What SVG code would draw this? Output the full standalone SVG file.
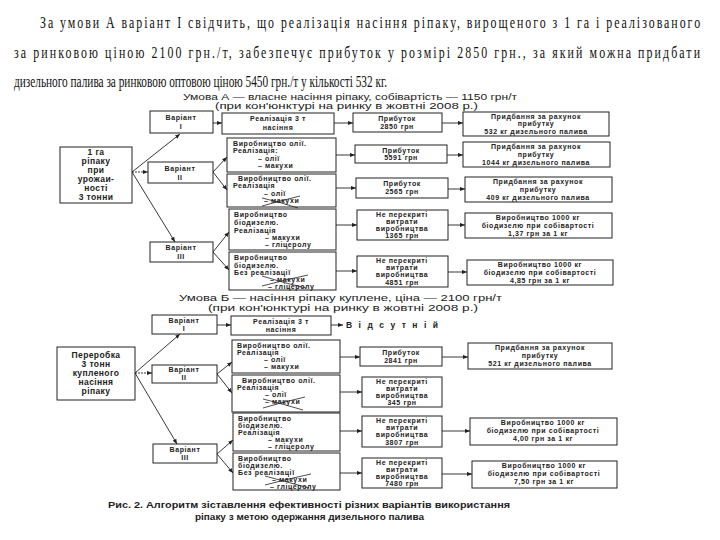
<svg xmlns="http://www.w3.org/2000/svg" width="720" height="540" viewBox="0 0 720 540">
<defs>
<marker id="ar" viewBox="0 0 6 6" refX="6" refY="3" markerWidth="5" markerHeight="5" orient="auto" markerUnits="userSpaceOnUse"><path d="M0,0.5 L6,3 L0,5.5 z" fill="#222"/></marker>
<style>
.b{fill:#fff;stroke:#222;stroke-width:1}
.t{font-family:"Liberation Sans",Arial,sans-serif;font-weight:bold;font-size:7px;letter-spacing:0.6px;fill:#222}
.m{text-anchor:middle}
.big{font-size:8.5px;letter-spacing:0.4px}
.h{font-family:"Liberation Serif","Times New Roman",serif;font-size:17px;fill:#111}
.tt{font-family:"Liberation Sans",Arial,sans-serif;font-size:8.5px;fill:#222}
.cap{font-family:"Liberation Sans",Arial,sans-serif;font-weight:bold;font-size:9px;fill:#222}
.c{stroke:#222;stroke-width:0.9;fill:none}
.x{stroke:#222;stroke-width:0.8;fill:none}
</style>
</defs>
<rect width="720" height="540" fill="#fff"/>

<g id="paragraph" transform="scale(0.7,1)">
<text class="h" x="57.1" y="28" textLength="943" lengthAdjust="spacing">За умови А варіант I свідчить, що реалізація насіння ріпаку, вирощеного з 1 га і реалізованого</text>
<text class="h" x="20" y="58" textLength="980" lengthAdjust="spacing">за ринковою ціною 2100 грн./т, забезпечує прибуток у розмірі 2850 грн., за який можна придбати</text>
<text class="h" x="20" y="87" textLength="533" lengthAdjust="spacingAndGlyphs">дизельного палива за ринковою оптовою ціною 5450 грн./т у кількості 532 кг.</text>
</g>

<g id="titleA">
<text class="tt" x="183" y="100" textLength="334" lengthAdjust="spacingAndGlyphs">Умова А — власне насіння ріпаку, собівартість — 1150 грн/т</text>
<text class="tt" x="215" y="109" textLength="263" lengthAdjust="spacingAndGlyphs">(при кон'юнктурі на ринку в жовтні 2008 р.)</text>
</g>

<g id="connectors">
<path class="c" d="M132,172 L180,134" marker-end="url(#ar)"/>
<path class="c" d="M132,172 L148,172" marker-end="url(#ar)" stroke-dasharray="2,1"/>
<path class="c" d="M132,172 L175,242" marker-end="url(#ar)"/>
<path class="c" d="M213,123 L222,123" marker-end="url(#ar)"/>
<path class="c" d="M213,172 L227,157" marker-end="url(#ar)"/>
<path class="c" d="M213,172 L227,190" marker-end="url(#ar)"/>
<path class="c" d="M213,252 L229,232" marker-end="url(#ar)"/>
<path class="c" d="M213,252 L229,270" marker-end="url(#ar)"/>
<path class="c" d="M334,123 L353,123" marker-end="url(#ar)"/>
<path class="c" d="M336,155 L355,155" marker-end="url(#ar)"/>
<path class="c" d="M336,188 L356,188" marker-end="url(#ar)"/>
<path class="c" d="M336,225 L357,225" marker-end="url(#ar)"/>
<path class="c" d="M336,271 L357,271" marker-end="url(#ar)"/>
<path class="c" d="M442,123 L463,123" marker-end="url(#ar)"/>
<path class="c" d="M447,155 L463,155" marker-end="url(#ar)"/>
<path class="c" d="M448,189 L465,189" marker-end="url(#ar)"/>
<path class="c" d="M448,225 L465,225" marker-end="url(#ar)"/>
<path class="c" d="M448,272 L467,272" marker-end="url(#ar)"/>
<path class="c" d="M135,373 L180,334" marker-end="url(#ar)"/>
<path class="c" d="M135,373 L152,373" marker-end="url(#ar)" stroke-dasharray="2,1"/>
<path class="c" d="M135,373 L177,444" marker-end="url(#ar)"/>
<path class="c" d="M217,325 L231,325" marker-end="url(#ar)"/>
<path class="c" d="M217,374 L232,362" marker-end="url(#ar)"/>
<path class="c" d="M217,374 L232,393" marker-end="url(#ar)"/>
<path class="c" d="M217,454 L233,440" marker-end="url(#ar)"/>
<path class="c" d="M217,454 L233,473" marker-end="url(#ar)"/>
<path class="c" d="M331,325 L343,325" marker-end="url(#ar)"/>
<path class="c" d="M340,357 L360,357" marker-end="url(#ar)"/>
<path class="c" d="M340,392 L362,392" marker-end="url(#ar)"/>
<path class="c" d="M340,431 L362,431" marker-end="url(#ar)"/>
<path class="c" d="M340,473 L362,473" marker-end="url(#ar)"/>
<path class="c" d="M442,357 L468,357" marker-end="url(#ar)"/>
<path class="c" d="M442,431 L470,431" marker-end="url(#ar)"/>
<path class="c" d="M442,474 L472,474" marker-end="url(#ar)"/>
</g>

<g id="a-root"><rect class="b" x="60" y="147" width="72" height="56"/>
<text class="t big m" x="96" y="155">1 га</text><text class="t big m" x="96" y="164">ріпаку</text><text class="t big m" x="96" y="173">при</text><text class="t big m" x="96" y="182">урожаи-</text><text class="t big m" x="96" y="191">ності</text><text class="t big m" x="96" y="200">3 тонни</text></g>

<g id="a-v1"><rect class="b" x="150" y="111" width="63" height="22"/><text class="t m" x="181" y="120">Варіант</text><text class="t m" x="181" y="129">I</text></g>
<g id="a-v2"><rect class="b" x="148" y="162" width="65" height="21"/><text class="t m" x="180" y="171">Варіант</text><text class="t m" x="180" y="180">II</text></g>
<g id="a-v3"><rect class="b" x="150" y="242" width="63" height="20"/><text class="t m" x="181" y="250">Варіант</text><text class="t m" x="181" y="259">III</text></g>

<g id="a-r1"><rect class="b" x="222" y="113" width="112" height="21"/><text class="t m" x="278" y="121">Реалізація 3 т</text><text class="t m" x="278" y="130">насіння</text></g>
<g id="a-r1p"><rect class="b" x="353" y="113" width="89" height="19"/><text class="t m" x="397" y="121">Прибуток</text><text class="t m" x="397" y="129">2850 грн</text></g>
<g id="a-r1d"><rect class="b" x="463" y="112" width="146" height="24"/><text class="t m" x="536" y="119">Придбання за рахунок</text><text class="t m" x="536" y="126">прибутку</text><text class="t m" x="536" y="134">532 кг дизельного палива</text></g>

<g id="a-r2"><rect class="b" x="227" y="138" width="109" height="34"/><text class="t" x="233" y="146">Виробництво олії.</text><text class="t" x="233" y="153">Реалізація:</text><text class="t" x="258" y="161">– олії</text><text class="t" x="258" y="168">– макухи</text></g>
<g id="a-r2p"><rect class="b" x="355" y="145" width="92" height="18"/><text class="t m" x="401" y="153">Прибуток</text><text class="t m" x="401" y="160">5591 грн</text></g>
<g id="a-r2d"><rect class="b" x="463" y="142" width="147" height="25"/><text class="t m" x="536" y="149">Придбання за рахунок</text><text class="t m" x="536" y="157">прибутку</text><text class="t m" x="536" y="165">1044 кг дизельного палива</text></g>

<g id="a-r3"><rect class="b" x="227" y="174" width="109" height="33"/><text class="t" x="238" y="181">Виробництво олії.</text><text class="t" x="233" y="188">Реалізація</text><text class="t" x="264" y="196">– олії</text><text class="t" x="264" y="203">– макухи</text>
<path class="x" d="M262,198 Q280,202 298,208 M262,206 Q280,201 300,196"/></g>
<g id="a-r3p"><rect class="b" x="356" y="178" width="92" height="20"/><text class="t m" x="402" y="186">Прибуток</text><text class="t m" x="402" y="194">2565 грн</text></g>
<g id="a-r3d"><rect class="b" x="465" y="177" width="147" height="25"/><text class="t m" x="538" y="184">Придбання за рахунок</text><text class="t m" x="538" y="192">прибутку</text><text class="t m" x="538" y="200">409 кг дизельного палива</text></g>

<g id="a-r4"><rect class="b" x="229" y="209" width="107" height="41"/><text class="t" x="234" y="217">Виробництво</text><text class="t" x="234" y="225">біодизелю.</text><text class="t" x="234" y="233">Реалізація</text><text class="t" x="265" y="240">– макухи</text><text class="t" x="265" y="247">– гліцеролу</text></g>
<g id="a-r4p"><rect class="b" x="357" y="210" width="91" height="30"/><text class="t m" x="402" y="217">Не перекриті</text><text class="t m" x="402" y="224">витрати</text><text class="t m" x="402" y="231">виробництва</text><text class="t m" x="402" y="238">1365 грн</text></g>
<g id="a-r4d"><rect class="b" x="465" y="213" width="147" height="25"/><text class="t m" x="538" y="220">Виробництво 1000 кг</text><text class="t m" x="538" y="228">біодизелю при собівартості</text><text class="t m" x="538" y="236">1,37 грн за 1 кг</text></g>

<g id="a-r5"><rect class="b" x="229" y="252" width="107" height="38"/><text class="t" x="234" y="260">Виробництво</text><text class="t" x="234" y="268">біодизелю.</text><text class="t" x="234" y="275">Без реалізації</text><text class="t" x="270" y="282">– макухи</text><text class="t" x="268" y="289">– гліцеролу</text>
<path class="x" d="M262,276 Q284,283 306,288 M262,286 Q284,280 308,275"/></g>
<g id="a-r5p"><rect class="b" x="357" y="256" width="91" height="31"/><text class="t m" x="402" y="263">Не перекриті</text><text class="t m" x="402" y="270">витрати</text><text class="t m" x="402" y="277">виробництва</text><text class="t m" x="402" y="285">4851 грн</text></g>
<g id="a-r5d"><rect class="b" x="467" y="260" width="146" height="25"/><text class="t m" x="540" y="267">Виробництво 1000 кг</text><text class="t m" x="540" y="275">біодизелю при собівартості</text><text class="t m" x="540" y="283">4,85 грн за 1 кг</text></g>

<g id="titleB">
<text class="tt" x="179" y="301" textLength="323" lengthAdjust="spacingAndGlyphs">Умова Б — насіння ріпаку куплене, ціна — 2100 грн/т</text>
<text class="tt" x="208" y="311" textLength="270" lengthAdjust="spacingAndGlyphs">(при кон'юнктурі на ринку в жовтні 2008 р.)</text>
</g>

<g id="b-root"><rect class="b" x="57" y="347" width="78" height="53"/>
<text class="t big m" x="96" y="358">Переробка</text><text class="t big m" x="96" y="367">3 тонн</text><text class="t big m" x="96" y="376">купленого</text><text class="t big m" x="96" y="385">насіння</text><text class="t big m" x="96" y="394">ріпаку</text></g>

<g id="b-v1"><rect class="b" x="152" y="315" width="65" height="19"/><text class="t m" x="184" y="323">Варіант</text><text class="t m" x="184" y="331">I</text></g>
<g id="b-v2"><rect class="b" x="152" y="365" width="65" height="18"/><text class="t m" x="184" y="372">Варіант</text><text class="t m" x="184" y="380">II</text></g>
<g id="b-v3"><rect class="b" x="153" y="444" width="64" height="19"/><text class="t m" x="185" y="452">Варіант</text><text class="t m" x="185" y="460">III</text></g>

<g id="b-r1"><rect class="b" x="231" y="316" width="100" height="19"/><text class="t m" x="281" y="324">Реалізація 3 т</text><text class="t m" x="281" y="332">насіння</text></g>
<g id="b-r1p"><text class="tt" x="346" y="328" textLength="92" lengthAdjust="spacing" font-weight="bold">Відсутній</text></g>

<g id="b-r2"><rect class="b" x="232" y="340" width="108" height="33"/><text class="t" x="237" y="348">Виробництво олії.</text><text class="t" x="237" y="355">Реалізація</text><text class="t" x="264" y="362">– олії</text><text class="t" x="264" y="369">– макухи</text></g>
<g id="b-r2p"><rect class="b" x="360" y="347" width="82" height="19"/><text class="t m" x="401" y="355">Прибуток</text><text class="t m" x="401" y="363">2841 грн</text></g>
<g id="b-r2d"><rect class="b" x="468" y="343" width="144" height="26"/><text class="t m" x="540" y="350">Придбання за рахунок</text><text class="t m" x="540" y="358">прибутку</text><text class="t m" x="540" y="366">521 кг дизельного палива</text></g>

<g id="b-r3"><rect class="b" x="232" y="375" width="108" height="37"/><text class="t" x="242" y="383">Виробництво олії.</text><text class="t" x="237" y="390">Реалізація</text><text class="t" x="265" y="397">– олії</text><text class="t" x="265" y="404">– макухи</text>
<path class="x" d="M263,399 Q283,404 303,410 M263,408 Q283,402 305,397"/></g>
<g id="b-r3p"><rect class="b" x="362" y="377" width="80" height="30"/><text class="t m" x="402" y="384">Не перекриті</text><text class="t m" x="402" y="391">витрати</text><text class="t m" x="402" y="398">виробництва</text><text class="t m" x="402" y="405">345 грн</text></g>

<g id="b-r4"><rect class="b" x="233" y="413" width="107" height="38"/><text class="t" x="238" y="421">Виробництво</text><text class="t" x="238" y="428">біодизелю.</text><text class="t" x="238" y="435">Реалізація</text><text class="t" x="268" y="442">– макухи</text><text class="t" x="268" y="449">– гліцеролу</text></g>
<g id="b-r4p"><rect class="b" x="362" y="416" width="80" height="31"/><text class="t m" x="402" y="423">Не перекриті</text><text class="t m" x="402" y="430">витрати</text><text class="t m" x="402" y="437">виробництва</text><text class="t m" x="402" y="445">3807 грн</text></g>
<g id="b-r4d"><rect class="b" x="470" y="418" width="147" height="27"/><text class="t m" x="543" y="425">Виробництво 1000 кг</text><text class="t m" x="543" y="433">біодизелю при собівартості</text><text class="t m" x="543" y="441">4,00 грн за 1 кг</text></g>

<g id="b-r5"><rect class="b" x="233" y="453" width="107" height="37"/><text class="t" x="238" y="461">Виробництво</text><text class="t" x="238" y="468">біодизелю.</text><text class="t" x="238" y="475">Без реалізації</text><text class="t" x="272" y="482">– макухи</text><text class="t" x="270" y="489">– гліцеролу</text>
<path class="x" d="M265,476 Q287,482 309,488 M265,485 Q287,479 311,474"/></g>
<g id="b-r5p"><rect class="b" x="362" y="458" width="80" height="30"/><text class="t m" x="402" y="465">Не перекриті</text><text class="t m" x="402" y="472">витрати</text><text class="t m" x="402" y="479">виробництва</text><text class="t m" x="402" y="486">7480 грн</text></g>
<g id="b-r5d"><rect class="b" x="472" y="461" width="145" height="27"/><text class="t m" x="544" y="468">Виробництво 1000 кг</text><text class="t m" x="544" y="476">біодизелю при собівартості</text><text class="t m" x="544" y="484">7,50 грн за 1 кг</text></g>

<g id="caption">
<text class="cap" x="108" y="508" textLength="402" lengthAdjust="spacingAndGlyphs">Рис. 2. Алгоритм зіставлення ефективності різних варіантів використання</text>
<text class="cap" x="195" y="520" textLength="229" lengthAdjust="spacingAndGlyphs">ріпаку з метою одержання дизельного палива</text>
</g>
</svg>
